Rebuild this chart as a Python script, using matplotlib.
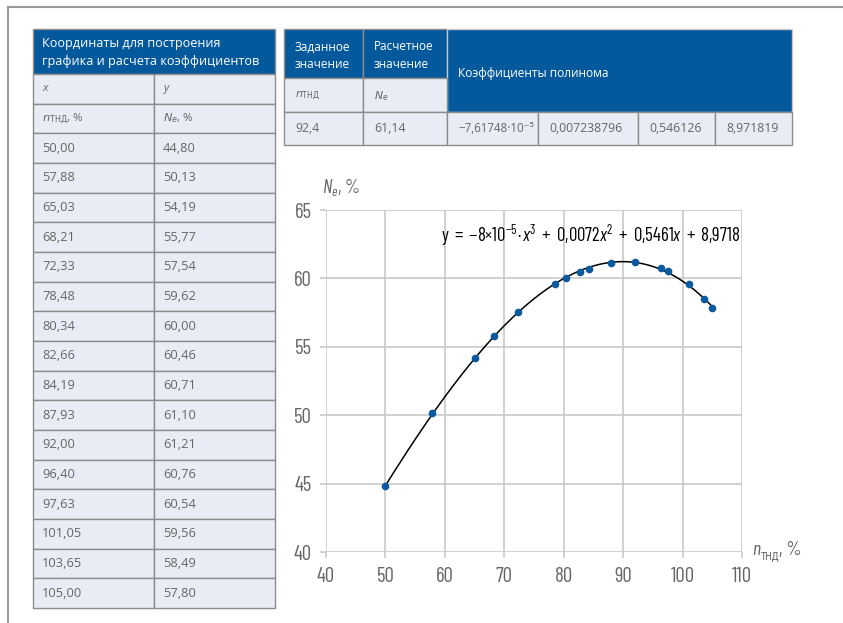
import numpy as np
import matplotlib.pyplot as plt
from matplotlib import font_manager as fm
from matplotlib.patches import Rectangle

# data points (n_THD, %  ->  N_e, %)
x_vals = [50.00, 57.88, 65.03, 68.21, 72.33, 78.48, 80.34, 82.66,
          84.19, 87.93, 92.00, 96.40, 97.63, 101.05, 103.65, 105.00]
y_vals = [44.80, 50.13, 54.19, 55.77, 57.54, 59.62, 60.00, 60.46,
          60.71, 61.10, 61.21, 60.76, 60.54, 59.56, 58.49, 57.80]

# polynomial coefficients (x^3, x^2, x, 1)
coeffs = [-7.61748e-5, 0.007238796, 0.546126, 8.971819]
coeff_labels = ['\u22127,61748\u00b710\u207b\u2075', '0,007238796', '0,546126', '8,971819']
set_value = '92,4'
calc_value = '61,14'

x_ticks = [40, 50, 60, 70, 80, 90, 100, 110]
y_ticks = [40, 45, 50, 55, 60, 65]

# condensed fonts for the chart (one for digits, one that has Cyrillic)
have = {f.name for f in fm.fontManager.ttflist}
narrow = next((f for f in ['Barlow Condensed', 'Roboto Condensed', 'IBM Plex Sans Condensed',
                           'Open Sans Condensed'] if f in have), 'DejaVu Sans')
cyr = next((f for f in ['Roboto Condensed', 'IBM Plex Sans Condensed', 'Open Sans Condensed']
            if f in have), 'DejaVu Sans')
NARROW = [narrow, cyr, 'DejaVu Sans']
plt.rcParams['mathtext.fontset'] = 'custom'
plt.rcParams['mathtext.rm'] = narrow
plt.rcParams['mathtext.it'] = narrow + ':italic'
plt.rcParams['mathtext.sf'] = narrow

BLUE = '#03599c'
CELL = '#e9ecf5'
EDGE = '#8c8c8c'
TXT = '#666666'
TFONT = ['Open Sans', 'DejaVu Sans']

fig = plt.figure(figsize=(8.43, 6.23), dpi=100)

# overlay in pixel coordinates for the tables
ov = fig.add_axes([0, 0, 1, 1])
ov.set_xlim(0, 843)
ov.set_ylim(623, 0)
ov.axis('off')

# page frame (top and left)
ov.plot([8, 843], [7, 7], color='#9a9a9a', lw=1.5)
ov.plot([8, 8], [7, 623], color='#9a9a9a', lw=1.5)


def cell(x0, y0, x1, y1, fc, ec=EDGE):
    ov.add_patch(Rectangle((x0, y0), x1 - x0, y1 - y0, facecolor=fc,
                           edgecolor=ec, lw=1.0))


def txt(x, y, s, color=TXT, size=8.6, **kw):
    ov.text(x, y, s, color=color, fontsize=size, family=TFONT,
            va='center', ha='left', math_fontfamily='dejavusans', **kw)


# left table
lx0, lx1, lx2 = 33, 154, 275
cell(lx0, 29, lx2, 74, BLUE)
txt(lx0 + 9, 44, 'Координаты для построения', color='white', size=9.1)
txt(lx0 + 9, 61, 'графика и расчета коэффициентов', color='white', size=9.1)
rows = [('x', 'y'), (r'$n_{\mathrm{ТНД}}$, %', r'$N_e$, %')] + \
       [(f'{a:.2f}'.replace('.', ','), f'{b:.2f}'.replace('.', ',')) for a, b in zip(x_vals, y_vals)]
rh = (608 - 74) / len(rows)
for i, (a, b) in enumerate(rows):
    y0 = 74 + i * rh
    cell(lx0, y0, lx1, y0 + rh, CELL)
    cell(lx1, y0, lx2, y0 + rh, CELL)
    st = 'italic' if i == 0 else 'normal'
    sz = 8.2 if i < 2 else 9.3
    txt(lx0 + 9, y0 + rh / 2, a, size=sz, style=st)
    txt(lx1 + 9, y0 + rh / 2, b, size=sz, style=st)

# right table
cols = [284, 363, 447, 538, 638, 715, 792]
cell(cols[0], 29, cols[1], 78, BLUE)
cell(cols[1], 29, cols[2], 78, BLUE)
cell(cols[2], 29, cols[6], 112, BLUE, ec='#c8c8c8')
txt(cols[0] + 11, 47, 'Заданное', color='white', size=8.5)
txt(cols[0] + 11, 64, 'значение', color='white', size=8.5)
txt(cols[1] + 11, 47, 'Расчетное', color='white', size=8.5)
txt(cols[1] + 11, 64, 'значение', color='white', size=8.5)
txt(cols[2] + 11, 73, 'Коэффициенты полинома', color='white', size=8.6)
cell(cols[0], 78, cols[1], 112, CELL)
cell(cols[1], 78, cols[2], 112, CELL)
txt(cols[0] + 11, 96, r'$n_{\mathrm{ТНД}}$', size=7.8)
txt(cols[1] + 11, 96, r'$N_e$', size=7.8)
vals = [set_value, calc_value] + coeff_labels
for i, v in enumerate(vals):
    cell(cols[i], 112, cols[i + 1], 145, CELL)
    txt(cols[i] + 11, 129, v, size=8.8 if i != 2 else 8.3)

# chart
ax = fig.add_axes([326 / 843, 1 - 552 / 623, 416 / 843, 342 / 623])
xs = np.linspace(min(x_vals), max(x_vals), 300)
ax.plot(xs, np.polyval(coeffs, xs), color='black', lw=1.1, zorder=2)
ax.plot(x_vals, y_vals, 'o', color='#0b5aa0', ms=4.5, zorder=3)
ax.set_xlim(40, 110)
ax.set_ylim(40, 65)
ax.set_xticks(x_ticks)
ax.set_yticks(y_ticks)
ax.grid(True, color='#c8c9cc', lw=1.2)
ax.set_axisbelow(True)
for s in ax.spines.values():
    s.set_visible(False)
ax.tick_params(colors='#c8c9cc', length=4, width=1.2, labelcolor=TXT,
               labelsize=15)
ax.tick_params(axis='x', pad=7)
ax.tick_params(axis='y', pad=6)
for lab in ax.get_xticklabels() + ax.get_yticklabels():
    lab.set_family(NARROW)
ax.text(59.3, 63.15, r'$\mathrm{y\ =\ {-}8{\times}10^{-5}{\cdot}}x^{3}\mathrm{\ +\ 0{,}0072}x^{2}'
        r'\mathrm{\ +\ 0{,}5461}x\mathrm{\ +\ 8{,}9718}$',
        fontsize=13.5, color='black', va='center', ha='left')

# axis captions
ov.text(322, 193, r'$N_e$, %', fontsize=14, color=TXT, family=NARROW,
        va='baseline', ha='left')
ov.text(752, 555, 'n', fontsize=14, color=TXT, family=NARROW, style='italic',
        va='baseline', ha='left')
ov.text(761, 560, 'ТНД', fontsize=7.5, color=TXT, family=[cyr, 'DejaVu Sans'],
        va='baseline', ha='left')
ov.text(779, 555, ', %', fontsize=14, color=TXT, family=NARROW, va='baseline', ha='left')

fig.savefig('out.png', dpi=100)
